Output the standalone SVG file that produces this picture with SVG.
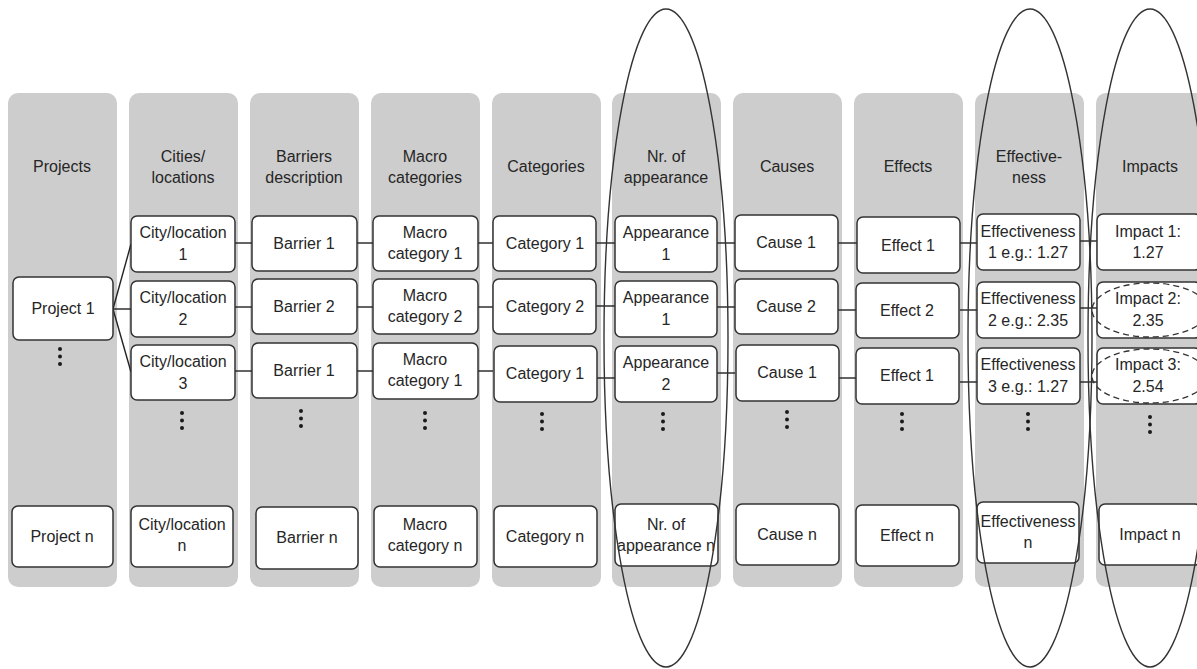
<svg xmlns="http://www.w3.org/2000/svg" width="1197" height="669" viewBox="0 0 1197 669">
  <style>
    .col { fill: #cdcdcd; }
    .box { fill: #ffffff; stroke: #333333; stroke-width: 1.5; }
    .t { font-family: "Liberation Sans", Arial, sans-serif; font-size: 16px; fill: #262626; text-anchor: middle; }
    .link { stroke: #222222; stroke-width: 1.4; fill: none; }
    .dot { fill: #1a1a1a; }
    .ring { fill: none; stroke: #333333; stroke-width: 1.4; }
    .dash { fill: none; stroke: #333333; stroke-width: 1.3; stroke-dasharray: 6 4; }
  </style>

  <!-- column backgrounds -->
  <g id="columns">
    <rect class="col" x="8" y="93" width="109" height="494" rx="10"/>
    <rect class="col" x="129" y="93" width="109" height="494" rx="10"/>
    <rect class="col" x="250" y="93" width="109" height="494" rx="10"/>
    <rect class="col" x="371" y="93" width="109" height="494" rx="10"/>
    <rect class="col" x="492" y="93" width="109" height="494" rx="10"/>
    <rect class="col" x="612" y="93" width="109" height="494" rx="10"/>
    <rect class="col" x="733" y="93" width="109" height="494" rx="10"/>
    <rect class="col" x="854" y="93" width="109" height="494" rx="10"/>
    <rect class="col" x="975" y="93" width="109" height="494" rx="10"/>
    <rect class="col" x="1096" y="93" width="109" height="494" rx="10"/>
  </g>

  <!-- column headings -->
  <g id="headers">
    <text class="t" x="62" y="172">Projects</text>
    <text class="t" x="183" y="162">Cities/</text>
    <text class="t" x="183" y="183">locations</text>
    <text class="t" x="304" y="162">Barriers</text>
    <text class="t" x="304" y="183">description</text>
    <text class="t" x="425" y="162">Macro</text>
    <text class="t" x="425" y="183">categories</text>
    <text class="t" x="546" y="172">Categories</text>
    <text class="t" x="666" y="162">Nr. of</text>
    <text class="t" x="666" y="183">appearance</text>
    <text class="t" x="787" y="172">Causes</text>
    <text class="t" x="908" y="172">Effects</text>
    <text class="t" x="1029" y="162">Effective-</text>
    <text class="t" x="1029" y="183">ness</text>
    <text class="t" x="1150" y="172">Impacts</text>
  </g>

  <!-- connectors -->
  <g id="connectors">
    <line class="link" x1="113" y1="309" x2="131" y2="244"/>
    <line class="link" x1="113" y1="309" x2="131" y2="309"/>
    <line class="link" x1="113" y1="309" x2="131" y2="372"/>

    <line class="link" x1="235" y1="243" x2="252" y2="243"/>
    <line class="link" x1="357" y1="243" x2="373" y2="243"/>
    <line class="link" x1="478" y1="243" x2="493" y2="243"/>
    <line class="link" x1="596" y1="243" x2="615" y2="243"/>
    <line class="link" x1="717" y1="243" x2="735" y2="243"/>
    <line class="link" x1="838" y1="243" x2="857" y2="243"/>
    <line class="link" x1="960" y1="243" x2="977" y2="243"/>
    <line class="link" x1="1080" y1="241" x2="1097" y2="241"/>

    <line class="link" x1="235" y1="307" x2="252" y2="307"/>
    <line class="link" x1="357" y1="307" x2="373" y2="307"/>
    <line class="link" x1="478" y1="307" x2="493" y2="307"/>
    <line class="link" x1="596" y1="306" x2="615" y2="306"/>
    <line class="link" x1="717" y1="307" x2="735" y2="307"/>
    <line class="link" x1="838" y1="310" x2="857" y2="310"/>
    <line class="link" x1="960" y1="310" x2="977" y2="310"/>
    <line class="link" x1="1080" y1="308" x2="1097" y2="308"/>

    <line class="link" x1="235" y1="371" x2="252" y2="371"/>
    <line class="link" x1="357" y1="371" x2="373" y2="371"/>
    <line class="link" x1="478" y1="371" x2="493" y2="371"/>
    <line class="link" x1="596" y1="378" x2="615" y2="378"/>
    <line class="link" x1="717" y1="373" x2="735" y2="373"/>
    <line class="link" x1="838" y1="378" x2="857" y2="378"/>
    <line class="link" x1="960" y1="382" x2="977" y2="382"/>
    <line class="link" x1="1080" y1="382" x2="1097" y2="382"/>
  </g>

  <!-- projects -->
  <g id="project-1">
    <rect class="box" x="13" y="277" width="100" height="63" rx="6"/>
    <text class="t" x="63" y="314">Project 1</text>
  </g>
  <g id="project-n">
    <rect class="box" x="12" y="506" width="101" height="61" rx="6"/>
    <text class="t" x="62" y="542">Project n</text>
  </g>

  <!-- cities / locations -->
  <g id="city-1">
    <rect class="box" x="131" y="216" width="104" height="56" rx="6"/>
    <text class="t" x="183" y="238">City/location</text>
    <text class="t" x="183" y="260">1</text>
  </g>
  <g id="city-2">
    <rect class="box" x="131" y="281" width="104" height="56" rx="6"/>
    <text class="t" x="183" y="303">City/location</text>
    <text class="t" x="183" y="325">2</text>
  </g>
  <g id="city-3">
    <rect class="box" x="131" y="345" width="104" height="55" rx="6"/>
    <text class="t" x="183" y="367">City/location</text>
    <text class="t" x="183" y="389">3</text>
  </g>
  <g id="city-n">
    <rect class="box" x="131" y="506" width="102" height="61" rx="6"/>
    <text class="t" x="182" y="530">City/location</text>
    <text class="t" x="182" y="551">n</text>
  </g>

  <!-- barriers -->
  <g id="barrier-1a">
    <rect class="box" x="252" y="216" width="105" height="55" rx="6"/>
    <text class="t" x="304" y="249">Barrier 1</text>
  </g>
  <g id="barrier-2">
    <rect class="box" x="252" y="279" width="105" height="55" rx="6"/>
    <text class="t" x="304" y="312">Barrier 2</text>
  </g>
  <g id="barrier-1b">
    <rect class="box" x="252" y="343" width="105" height="55" rx="6"/>
    <text class="t" x="304" y="376">Barrier 1</text>
  </g>
  <g id="barrier-n">
    <rect class="box" x="256" y="507" width="102" height="62" rx="6"/>
    <text class="t" x="307" y="543">Barrier n</text>
  </g>

  <!-- macro categories -->
  <g id="macro-1a">
    <rect class="box" x="373" y="216" width="105" height="55" rx="6"/>
    <text class="t" x="425" y="238">Macro</text>
    <text class="t" x="425" y="259">category 1</text>
  </g>
  <g id="macro-2">
    <rect class="box" x="373" y="279" width="105" height="55" rx="6"/>
    <text class="t" x="425" y="301">Macro</text>
    <text class="t" x="425" y="322">category 2</text>
  </g>
  <g id="macro-1b">
    <rect class="box" x="373" y="343" width="105" height="56" rx="6"/>
    <text class="t" x="425" y="365">Macro</text>
    <text class="t" x="425" y="386">category 1</text>
  </g>
  <g id="macro-n">
    <rect class="box" x="374" y="506" width="103" height="61" rx="6"/>
    <text class="t" x="425" y="530">Macro</text>
    <text class="t" x="425" y="551">category n</text>
  </g>

  <!-- categories -->
  <g id="category-1a">
    <rect class="box" x="493" y="216" width="103" height="55" rx="6"/>
    <text class="t" x="545" y="249">Category 1</text>
  </g>
  <g id="category-2">
    <rect class="box" x="493" y="279" width="103" height="55" rx="6"/>
    <text class="t" x="545" y="312">Category 2</text>
  </g>
  <g id="category-1b">
    <rect class="box" x="494" y="346" width="103" height="56" rx="6"/>
    <text class="t" x="545" y="379">Category 1</text>
  </g>
  <g id="category-n">
    <rect class="box" x="494" y="506" width="103" height="61" rx="6"/>
    <text class="t" x="545" y="542">Category n</text>
  </g>

  <!-- number of appearance -->
  <g id="appearance-1a">
    <rect class="box" x="615" y="216" width="102" height="56" rx="6"/>
    <text class="t" x="666" y="238">Appearance</text>
    <text class="t" x="666" y="260">1</text>
  </g>
  <g id="appearance-1b">
    <rect class="box" x="615" y="281" width="102" height="56" rx="6"/>
    <text class="t" x="666" y="303">Appearance</text>
    <text class="t" x="666" y="325">1</text>
  </g>
  <g id="appearance-2">
    <rect class="box" x="615" y="346" width="102" height="56" rx="6"/>
    <text class="t" x="666" y="368">Appearance</text>
    <text class="t" x="666" y="390">2</text>
  </g>
  <g id="appearance-n">
    <rect class="box" x="615" y="504" width="103" height="62" rx="6"/>
    <text class="t" x="666" y="530">Nr. of</text>
    <text class="t" x="666" y="551">appearance n</text>
  </g>

  <!-- causes -->
  <g id="cause-1a">
    <rect class="box" x="735" y="215" width="103" height="56" rx="6"/>
    <text class="t" x="786" y="248">Cause 1</text>
  </g>
  <g id="cause-2">
    <rect class="box" x="735" y="279" width="103" height="55" rx="6"/>
    <text class="t" x="786" y="312">Cause 2</text>
  </g>
  <g id="cause-1b">
    <rect class="box" x="736" y="345" width="103" height="56" rx="6"/>
    <text class="t" x="787" y="378">Cause 1</text>
  </g>
  <g id="cause-n">
    <rect class="box" x="736" y="504" width="103" height="61" rx="6"/>
    <text class="t" x="787" y="540">Cause n</text>
  </g>

  <!-- effects -->
  <g id="effect-1a">
    <rect class="box" x="857" y="217" width="103" height="56" rx="6"/>
    <text class="t" x="908" y="251">Effect 1</text>
  </g>
  <g id="effect-2">
    <rect class="box" x="856" y="283" width="103" height="55" rx="6"/>
    <text class="t" x="907" y="316">Effect 2</text>
  </g>
  <g id="effect-1b">
    <rect class="box" x="856" y="348" width="103" height="56" rx="6"/>
    <text class="t" x="907" y="381">Effect 1</text>
  </g>
  <g id="effect-n">
    <rect class="box" x="856" y="505" width="103" height="61" rx="6"/>
    <text class="t" x="907" y="541">Effect n</text>
  </g>

  <!-- effectiveness -->
  <g id="effectiveness-1">
    <rect class="box" x="977" y="214" width="103" height="56" rx="6"/>
    <text class="t" x="1028" y="237">Effectiveness</text>
    <text class="t" x="1028" y="258">1 e.g.: 1.27</text>
  </g>
  <g id="effectiveness-2">
    <rect class="box" x="977" y="282" width="103" height="56" rx="6"/>
    <text class="t" x="1028" y="304">Effectiveness</text>
    <text class="t" x="1028" y="326">2 e.g.: 2.35</text>
  </g>
  <g id="effectiveness-3">
    <rect class="box" x="977" y="348" width="103" height="56" rx="6"/>
    <text class="t" x="1028" y="370">Effectiveness</text>
    <text class="t" x="1028" y="392">3 e.g.: 1.27</text>
  </g>
  <g id="effectiveness-n">
    <rect class="box" x="977" y="502" width="102" height="61" rx="6"/>
    <text class="t" x="1028" y="527">Effectiveness</text>
    <text class="t" x="1028" y="548">n</text>
  </g>

  <!-- impacts -->
  <g id="impact-1">
    <rect class="box" x="1097" y="214" width="104" height="56" rx="6"/>
    <text class="t" x="1148" y="237">Impact 1:</text>
    <text class="t" x="1148" y="258">1.27</text>
  </g>
  <g id="impact-2">
    <rect class="box" x="1097" y="282" width="104" height="56" rx="6"/>
    <ellipse class="dash" cx="1150" cy="310" rx="58" ry="27"/>
    <text class="t" x="1148" y="304">Impact 2:</text>
    <text class="t" x="1148" y="326">2.35</text>
  </g>
  <g id="impact-3">
    <rect class="box" x="1097" y="348" width="104" height="56" rx="6"/>
    <ellipse class="dash" cx="1150" cy="376" rx="58" ry="27"/>
    <text class="t" x="1148" y="370">Impact 3:</text>
    <text class="t" x="1148" y="392">2.54</text>
  </g>
  <g id="impact-n">
    <rect class="box" x="1099" y="504" width="102" height="61" rx="6"/>
    <text class="t" x="1150" y="540">Impact n</text>
  </g>

  <!-- vertical ellipsis marks -->
  <g id="more">
    <circle class="dot" cx="60" cy="349" r="2"/><circle class="dot" cx="60" cy="356.5" r="2"/><circle class="dot" cx="60" cy="364" r="2"/>
    <circle class="dot" cx="182" cy="413" r="2"/><circle class="dot" cx="182" cy="420.5" r="2"/><circle class="dot" cx="182" cy="428" r="2"/>
    <circle class="dot" cx="301" cy="411" r="2"/><circle class="dot" cx="301" cy="418.5" r="2"/><circle class="dot" cx="301" cy="426" r="2"/>
    <circle class="dot" cx="425" cy="413" r="2"/><circle class="dot" cx="425" cy="420.5" r="2"/><circle class="dot" cx="425" cy="428" r="2"/>
    <circle class="dot" cx="542" cy="414" r="2"/><circle class="dot" cx="542" cy="421.5" r="2"/><circle class="dot" cx="542" cy="429" r="2"/>
    <circle class="dot" cx="663" cy="414" r="2"/><circle class="dot" cx="663" cy="421.5" r="2"/><circle class="dot" cx="663" cy="429" r="2"/>
    <circle class="dot" cx="787" cy="412" r="2"/><circle class="dot" cx="787" cy="419.5" r="2"/><circle class="dot" cx="787" cy="427" r="2"/>
    <circle class="dot" cx="902" cy="414" r="2"/><circle class="dot" cx="902" cy="421.5" r="2"/><circle class="dot" cx="902" cy="429" r="2"/>
    <circle class="dot" cx="1028" cy="414" r="2"/><circle class="dot" cx="1028" cy="421.5" r="2"/><circle class="dot" cx="1028" cy="429" r="2"/>
    <circle class="dot" cx="1150" cy="417" r="2"/><circle class="dot" cx="1150" cy="424.5" r="2"/><circle class="dot" cx="1150" cy="432" r="2"/>
  </g>

  <!-- highlighted columns -->
  <g id="highlights">
    <ellipse class="ring" cx="666" cy="338" rx="62" ry="329"/>
    <ellipse class="ring" cx="1030" cy="338" rx="62" ry="329"/>
    <ellipse class="ring" cx="1150" cy="338" rx="62" ry="329"/>
  </g>
</svg>
